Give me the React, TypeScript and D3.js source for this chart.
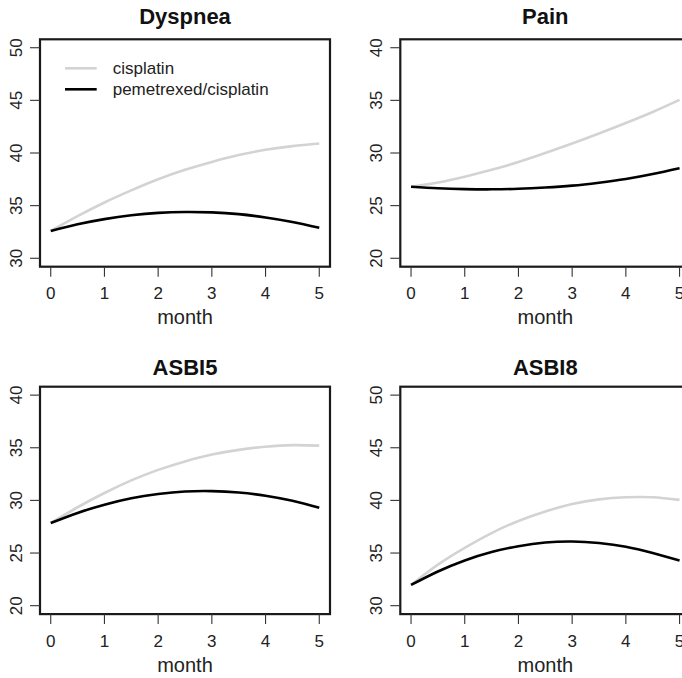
import React from "react";
import * as d3 from "d3";

const months = [0, 0.5, 1, 1.5, 2, 2.5, 3, 3.5, 4, 4.5, 5];
const xTicks = [0, 1, 2, 3, 4, 5];
const seriesNames = ["cisplatin", "pemetrexed/cisplatin"];
const seriesColors = ["#d3d3d3", "#000000"];

const titles = ["Dyspnea", "Pain", "ASBI5", "ASBI8"];
const yLimits: [number, number][] = [[30, 50], [20, 40], [20, 40], [30, 50]];
const yTicks = [
  [30, 35, 40, 45, 50],
  [20, 25, 30, 35, 40],
  [20, 25, 30, 35, 40],
  [30, 35, 40, 45, 50],
];

const dyspneaCis = [32.6, 34.0, 35.3, 36.45, 37.5, 38.4, 39.15, 39.8, 40.3, 40.65, 40.9];
const dyspneaPem = [32.6, 33.23, 33.72, 34.08, 34.31, 34.4, 34.36, 34.19, 33.88, 33.45, 32.9];
const painCis = [26.8, 27.2, 27.75, 28.4, 29.15, 30.0, 30.9, 31.85, 32.85, 33.9, 35.05];
const painPem = [26.8, 26.65, 26.57, 26.55, 26.6, 26.72, 26.9, 27.18, 27.53, 28.0, 28.55];
const asbi5Cis = [27.85, 29.35, 30.7, 31.9, 32.9, 33.7, 34.35, 34.8, 35.1, 35.25, 35.2];
const asbi5Pem = [27.85, 28.81, 29.59, 30.2, 30.6, 30.84, 30.88, 30.75, 30.45, 29.96, 29.3];
const asbi8Cis = [31.97, 33.9, 35.5, 36.9, 38.05, 38.95, 39.65, 40.1, 40.3, 40.3, 40.05];
const asbi8Pem = [31.97, 33.25, 34.3, 35.1, 35.65, 36.0, 36.1, 35.95, 35.6, 35.0, 34.3];

const panelSeries = [
  [dyspneaCis, dyspneaPem],
  [painCis, painPem],
  [asbi5Cis, asbi5Pem],
  [asbi8Cis, asbi8Pem],
];

const W = 682;
const H = 678;
const colLeft = [40, 400.3];
const rowTop = [39.3, 386.7];
const titleBase = [24, 375];
const PW = 290;
const PH = 227.4;
const FONT = "'Liberation Sans', Arial, Helvetica, sans-serif";
const INK = "#222";

function Panel({ idx }: { idx: number }) {
  const col = idx % 2;
  const row = Math.floor(idx / 2);
  const left = colLeft[col];
  const top = rowTop[row];
  const [y0, y1] = yLimits[idx];
  const xpad = (5 - 0) * 0.04;
  const ypad = (y1 - y0) * 0.04;
  const x = d3.scaleLinear().domain([0 - xpad, 5 + xpad]).range([left, left + PW]);
  const y = d3.scaleLinear().domain([y0 - ypad, y1 + ypad]).range([top + PH, top]);
  const line = d3
    .line<number>()
    .x((_, i) => x(months[i]))
    .y((d) => y(d))
    .curve(d3.curveNatural);
  const bottom = top + PH;
  const cx = left + PW / 2;
  return (
    <g>
      <text x={cx} y={titleBase[row]} textAnchor="middle" fontSize={22} fontWeight="bold" fill="#111" fontFamily={FONT}>
        {titles[idx]}
      </text>
      {panelSeries[idx].map((s, i) => (
        <path key={i} d={line(s) || ""} fill="none" stroke={seriesColors[i]} strokeWidth={2.6} />
      ))}
      <rect x={left} y={top} width={PW} height={PH} fill="none" stroke="#1a1a1a" strokeWidth={2.2} />
      {xTicks.map((t) => (
        <g key={"x" + t}>
          <line x1={x(t)} x2={x(t)} y1={bottom} y2={bottom + 10} stroke="#333" strokeWidth={1.1} />
          <text x={x(t)} y={bottom + 32.4} textAnchor="middle" fontSize={17} fill={INK} fontFamily={FONT}>
            {t}
          </text>
        </g>
      ))}
      {yTicks[idx].map((t) => (
        <g key={"y" + t}>
          <line x1={left - 10} x2={left} y1={y(t)} y2={y(t)} stroke="#333" strokeWidth={1.1} />
          <text
            transform={`translate(${left - 18.5},${y(t)}) rotate(-90)`}
            textAnchor="middle"
            fontSize={17}
            fill={INK}
            fontFamily={FONT}
          >
            {t}
          </text>
        </g>
      ))}
      <text x={cx} y={bottom + 57.6} textAnchor="middle" fontSize={20} fill={INK} fontFamily={FONT}>
        month
      </text>
      {idx === 0 &&
        seriesNames.map((n, i) => (
          <g key={n}>
            <line x1={65} x2={96.7} y1={68.3 + i * 21} y2={68.3 + i * 21} stroke={seriesColors[i]} strokeWidth={2.6} />
            <text x={112.7} y={68.3 + i * 21 + 6} fontSize={17} fill={INK} fontFamily={FONT}>
              {n}
            </text>
          </g>
        ))}
    </g>
  );
}

export default function App() {
  return (
    <svg
      width={W}
      height={H}
      viewBox={`0 0 ${W} ${H}`}
      style={{ position: "absolute", left: 0, top: 0, background: "#fff", overflow: "hidden" }}
    >
      <rect x={0} y={0} width={W} height={H} fill="#fff" />
      {[0, 1, 2, 3].map((i) => (
        <Panel key={i} idx={i} />
      ))}
    </svg>
  );
}
